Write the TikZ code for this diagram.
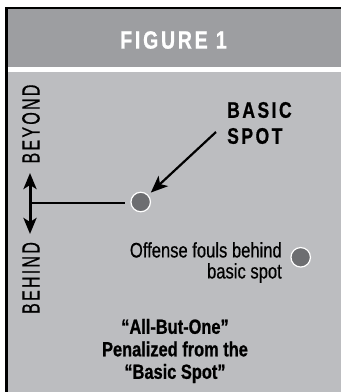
\documentclass[tikz,border=0pt]{standalone}
\usepackage{fontspec}
\newfontfamily\cond[FakeStretch=0.79,FakeBold=0.5]{Liberation Sans}
\newfontfamily\condb[FakeStretch=0.8,FakeBold=0.8]{Liberation Sans}
\newfontfamily\condsp[FakeStretch=0.78,LetterSpace=11,FakeBold=0.8]{Liberation Sans}
\newfontfamily\condwide[FakeStretch=0.64,LetterSpace=9,FakeBold=0.5]{Liberation Sans}
\usetikzlibrary{arrows.meta}
\definecolor{hdr}{HTML}{9D9EA1}
\definecolor{bodyc}{HTML}{BCBDC0}
\definecolor{spot}{HTML}{6D6E71}
\tikzset{
  spotc/.style={circle, fill=spot, draw=white, line width=1.2pt, minimum size=19.5pt, inner sep=0pt},
  lbl/.style={inner sep=0pt, text=black},
  conn/.style={line width=2.4pt, black},
  vtip/.tip={Stealth[length=16pt,width=13pt,inset=4pt]},
  tip/.style={-{Stealth[length=17pt,width=14pt,inset=4.5pt]}},
}
\begin{document}
\begin{tikzpicture}[x=1pt,y=-1pt]
\useasboundingbox (0,0) rectangle (341,392);
\fill[white] (0,0) rectangle (341,392);
\fill[hdr] (8,9) rectangle (341,67);
\fill[bodyc] (8,72) rectangle (341,392);
\draw[line width=3pt] (6.5,392) -- (6.5,7.5);
\draw[line width=2pt] (5,8) -- (341,8);

\node[lbl, text=white, font=\condsp\bfseries\fontsize{25}{26}\selectfont] (fig) at (173.5,40) {FIGURE 1};

\node[spotc] (s1) at (140.7,202) {};
\node[spotc] (s2) at (300.7,257.3) {};

\node[lbl, align=left, anchor=west, font=\condsp\bfseries\fontsize{22.5}{26}\selectfont] (basic) at (227,123) {BASIC\\SPOT};
\coordinate (ptr) at (216,132);
\draw[line width=2.2pt, tip, shorten >=3.5pt] (ptr) -- (s1);

\coordinate (j) at (30,203);
\coordinate (hend) at (125,203);
\coordinate (up) at (30,173);
\coordinate (dn) at (30,234);
\draw[conn] (j) -- (hend);
\draw[line width=3pt, vtip-vtip] (dn) -- (up);

\node[lbl, rotate=90, font=\condwide\fontsize{25}{26}\selectfont] (beyond) at (31,124) {BEYOND};
\node[lbl, rotate=90, font=\condwide\fontsize{25}{26}\selectfont] (behind) at (31,278) {BEHIND};

\node[lbl, align=right, anchor=east, font=\cond\fontsize{21}{21}\selectfont] (off) at (282,262.5) {Offense fouls behind\\basic spot};

\node[lbl, align=center, font=\condb\bfseries\fontsize{20.5}{22.5}\selectfont] (bottom) at (175,351) {“All-But-One”\\Penalized from the\\“Basic Spot”};
\end{tikzpicture}
\end{document}
